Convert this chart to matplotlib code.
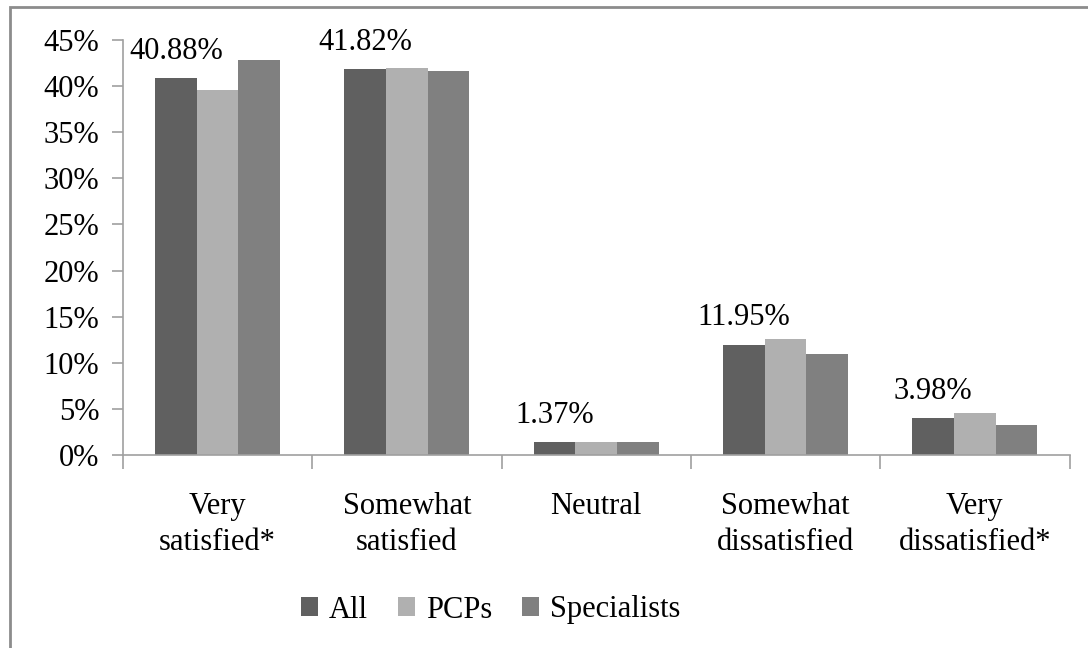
import matplotlib.pyplot as plt
import numpy as np
from matplotlib.patches import Rectangle

plt.rcParams['font.family'] = ['Liberation Serif', 'DejaVu Serif']

categories = ["Very\nsatisfied*", "Somewhat\nsatisfied", "Neutral",
              "Somewhat\ndissatisfied", "Very\ndissatisfied*"]
series = ["All", "PCPs", "Specialists"]
all_vals = [40.88, 41.82, 1.37, 11.95, 3.98]
pcp_vals = [39.6, 42.0, 1.37, 12.55, 4.5]
spec_vals = [42.8, 41.65, 1.37, 10.92, 3.2]
colors = ["#606060", "#b0b0b0", "#808080"]
fs = 22

fig = plt.figure(figsize=(10.88, 6.48), dpi=100)
ax = fig.add_axes([0.113, 0.298, 0.87, 0.64])

# outer chart border (only top/left visible in reference)
fig.patches.append(Rectangle((10 / 1088, -0.05), 1.2, 1 - 7 / 648 + 0.05,
                             transform=fig.transFigure, fill=False,
                             edgecolor="#8c8c8c", linewidth=2))

x = np.arange(len(categories))
w = 0.22
for i, (vals, name) in enumerate(zip([all_vals, pcp_vals, spec_vals], series)):
    ax.bar(x + (i - 1) * w, vals, width=w, color=colors[i], label=name, linewidth=0)

for xi, v in zip(x, all_vals):
    ax.annotate(f"{v:.2f}%", (xi - w, v), xytext=(0, 14), textcoords="offset points",
                ha="center", va="baseline", fontsize=fs)

ax.set_xlim(-0.5, len(categories) - 0.5)
ax.set_ylim(0, 45)
ax.set_yticks(np.arange(0, 46, 5))
ax.set_yticklabels([f"{t}%" for t in range(0, 46, 5)], fontsize=fs)
ax.set_xticks(x)
ax.set_xticklabels(categories, fontsize=fs, linespacing=1.3)
ax.set_xticks(np.arange(-0.5, len(categories)), minor=True)
ax.tick_params(axis="x", which="major", length=0, pad=27)
ax.tick_params(axis="x", which="minor", length=10, color="#a0a0a0", width=1.2)
ax.tick_params(axis="y", length=8, color="#a0a0a0", width=1.2, pad=9)

for s in ["top", "right"]:
    ax.spines[s].set_visible(False)
for s in ["left", "bottom"]:
    ax.spines[s].set_color("#a0a0a0")
    ax.spines[s].set_linewidth(1.2)

fig.legend(loc="center", bbox_to_anchor=(0.451, 1 - 610 / 648), ncol=3, frameon=False,
           fontsize=fs, handlelength=0.55, handleheight=0.55, handletextpad=0.35,
           columnspacing=1.0)

fig.savefig("out.png", dpi=100)
